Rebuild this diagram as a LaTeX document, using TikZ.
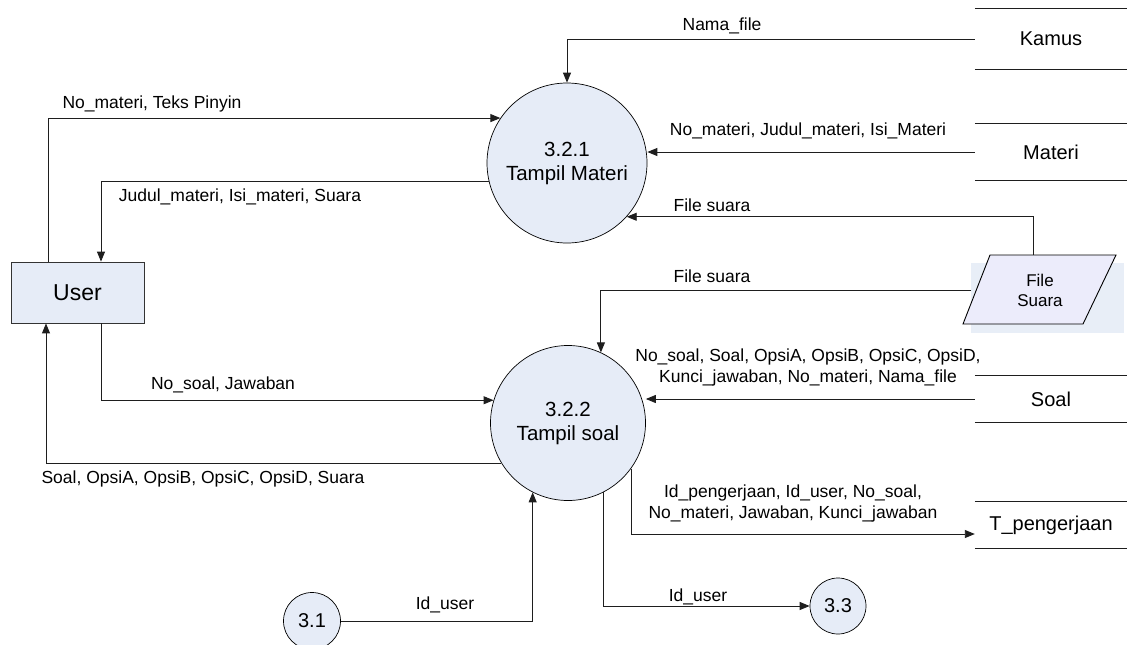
\documentclass[tikz,border=0pt]{standalone}
\usepackage{fontspec}
\setmainfont{Liberation Sans}
\usetikzlibrary{arrows.meta,calc}
\definecolor{procfill}{RGB}{230,236,247}
\definecolor{parafill}{RGB}{236,236,251}
\definecolor{bgfill}{RGB}{232,238,247}
\definecolor{linecol}{RGB}{30,30,30}
\tikzset{
  proc/.style={circle,draw=black,line width=0.7pt,fill=procfill,inner sep=0pt,align=center,font=\fontsize{20.5}{24}\selectfont},
  smallproc/.style={circle,draw=black,line width=0.7pt,fill=procfill,inner sep=0pt,minimum size=57pt,font=\fontsize{20}{24}\selectfont},
  entity/.style={rectangle,draw=black!80,line width=0.8pt,fill=procfill,minimum width=133pt,minimum height=61pt,inner sep=0pt,font=\fontsize{23}{27}\selectfont},
  store/.style={rectangle,minimum width=152pt,inner sep=0pt,font=\fontsize{20}{24}\selectfont},
  storeline/.style={draw=linecol,line width=0.9pt},
  flow/.style={draw=linecol,line width=0.9pt,-{Triangle[length=10pt,width=8pt]}},
  lbl/.style={inner sep=0pt,align=center,font=\fontsize{17.5}{21}\selectfont}
}
\begin{document}
\begin{tikzpicture}[x=1pt,y=-1pt]
\useasboundingbox (0,0) rectangle (1127,645);

% processes
\node[proc,minimum size=160pt] (c321) at (567,163) {3.2.1\\Tampil Materi};
\node[proc,minimum size=155pt] (c322) at (568,423) {3.2.2\\Tampil soal};
\node[smallproc] (c31) at (312,621) {3.1};
\node[smallproc,minimum size=56pt] (c33) at (838,606) {3.3};

% external entity
\node[entity] (user) at (77.5,292.5) {User};

% data stores
\node[store,minimum height=60pt] (kamus) at (1051,39) {Kamus};
\node[store,minimum height=57pt] (materi) at (1051,152) {Materi};
\node[store,minimum height=47pt] (soal) at (1051,399) {Soal};
\node[store,minimum height=46pt] (tpeng) at (1051,525) {T\_pengerjaan};
\foreach \s in {kamus,materi,soal,tpeng}{
  \draw[storeline] (\s.north west) -- (\s.north east) (\s.south west) -- (\s.south east);
}

% file suara (parallelogram)
\node[fill=bgfill,minimum width=153pt,minimum height=70pt,inner sep=0pt] (fsbg) at (1047.5,298) {};
\draw[line width=0.9pt,fill=parafill] (990,255) -- (1116,255) -- (1083,324) -- (963,324) -- cycle;
\node[inner sep=0pt,align=center,font=\fontsize{17}{20}\selectfont] (fs) at (1040,290) {File\\Suara};
\coordinate (fstop) at (1033,255);
\coordinate (fsleft) at (971,290);

% flows
\draw[flow] (kamus.west) -| (c321.north);
\draw[flow] (materi.west) -- (c321.east |- materi.west);
\draw[flow] (fstop) |- (c321.-42.5);
\draw[flow] (fsleft) -| (c322.65.6);
\draw[flow] (soal.west) -- (c322.east |- soal.west);
\draw[flow] (c322.-36.9) |- ([yshift=-9pt]tpeng.west);
\draw[flow] (c322.-63.1) |- (c33.west);
\draw[flow] (c31.east) -| (c322.-117.7);
\draw[flow] ([xshift=-29.5pt]user.north) |- (c321.146.6);
\draw[flow] (c321.193.7) -| ([xshift=23.5pt]user.north);
\draw[flow] ([xshift=23.5pt]user.south) |- (c322.163.5);
\draw[flow] (c322.211.1) -| ([xshift=-31.5pt]user.south);

% labels
\node[lbl] (l1) at (722,26) {Nama\_file};
\node[lbl] (l2) at (808,131) {No\_materi, Judul\_materi, Isi\_Materi};
\node[lbl] (l3) at (712,205) {File suara};
\node[lbl] (l4) at (712,276) {File suara};
\node[lbl] (l5) at (152,104) {No\_materi, Teks Pinyin};
\node[lbl] (l6) at (240,197) {Judul\_materi, Isi\_materi, Suara};
\node[lbl] (l7) at (223,385) {No\_soal, Jawaban};
\node[lbl] (l8) at (203,479) {Soal, OpsiA, OpsiB, OpsiC, OpsiD, Suara};
\node[lbl] (l9) at (808,367) {No\_soal, Soal, OpsiA, OpsiB, OpsiC, OpsiD,\\Kunci\_jawaban, No\_materi, Nama\_file};
\node[lbl] (l10) at (793,503) {Id\_pengerjaan, Id\_user, No\_soal,\\No\_materi, Jawaban, Kunci\_jawaban};
\node[lbl] (l11) at (445,605) {Id\_user};
\node[lbl] (l12) at (698,597) {Id\_user};
\end{tikzpicture}
\end{document}
